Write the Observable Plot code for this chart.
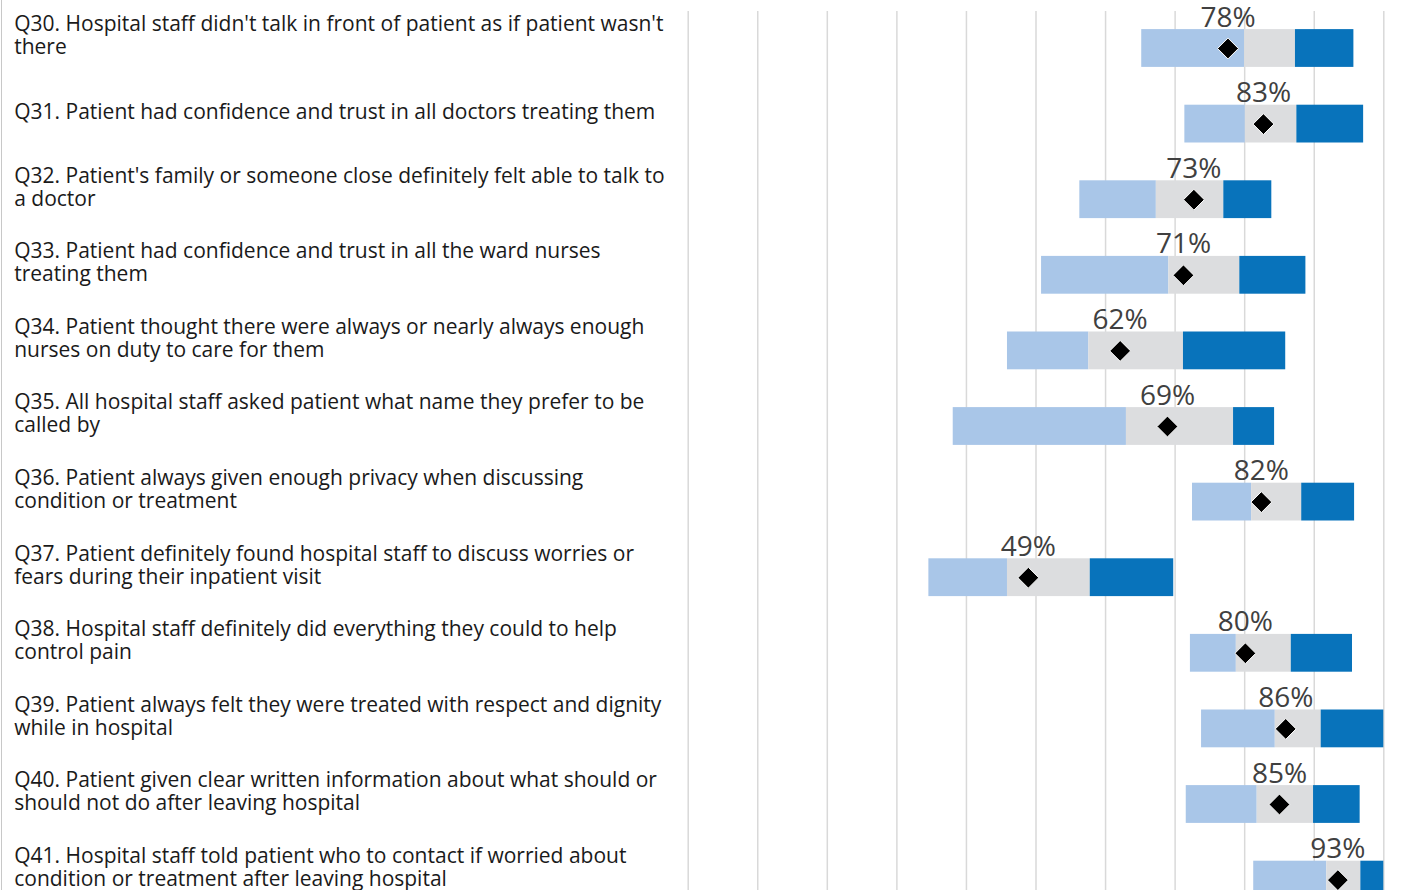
<!DOCTYPE html>
<html>
<head>
<meta charset="utf-8">
<script src="https://cdn.jsdelivr.net/npm/d3@7"></script>
<script src="https://cdn.jsdelivr.net/npm/@observablehq/plot@0.6"></script>
<style>
  html, body { margin: 0; padding: 0; background: #fff; overflow: hidden; }
  #wrap { position: relative; width: 1428px; height: 890px; }
  #border { position: absolute; left: 1px; top: 0; width: 1px; height: 890px; background: #c8c8c8; }
</style>
</head>
<body>
<div id="wrap"><div id="border"></div><div id="chart"></div></div>
<script>
const codes = ["Q30","Q31","Q32","Q33","Q34","Q35","Q36","Q37","Q38","Q39","Q40","Q41"];
const labels = [
  "Q30. Hospital staff didn't talk in front of patient as if patient wasn't\nthere",
  "Q31. Patient had confidence and trust in all doctors treating them",
  "Q32. Patient's family or someone close definitely felt able to talk to\na doctor",
  "Q33. Patient had confidence and trust in all the ward nurses\ntreating them",
  "Q34. Patient thought there were always or nearly always enough\nnurses on duty to care for them",
  "Q35. All hospital staff asked patient what name they prefer to be\ncalled by",
  "Q36. Patient always given enough privacy when discussing\ncondition or treatment",
  "Q37. Patient definitely found hospital staff to discuss worries or\nfears during their inpatient visit",
  "Q38. Hospital staff definitely did everything they could to help\ncontrol pain",
  "Q39. Patient always felt they were treated with respect and dignity\nwhile in hospital",
  "Q40. Patient given clear written information about what should or\nshould not do after leaving hospital",
  "Q41. Hospital staff told patient who to contact if worried about\ncondition or treatment after leaving hospital"
];
// range segments (percent)
const lowStart = [65.2, 71.4, 56.3, 50.8, 45.9, 38.1, 72.5, 34.6, 72.2, 73.8, 71.6, 81.3];
const lowEnd   = [80.0, 80.1, 67.3, 69.1, 57.6, 63.0, 81.0, 45.9, 78.8, 84.4, 81.8, 91.8];
const midEnd   = [87.3, 87.5, 77.0, 79.3, 71.2, 78.4, 88.2, 57.8, 86.7, 91.0, 89.9, 96.7];
const highEnd  = [95.7, 97.1, 83.9, 88.8, 85.9, 84.3, 95.8, 69.8, 95.5, 100.0, 96.6, 100.0];
const scores   = [77.6, 82.7, 72.7, 71.2, 62.1, 68.9, 82.4, 48.9, 80.1, 85.9, 85.0, 93.4];
const gridTicks = [0, 10, 20, 30, 40, 50, 60, 70, 80, 90, 100];

const rows = codes.map((c, i) => ({
  code: c, label: labels[i],
  lowStart: lowStart[i], lowEnd: lowEnd[i], midEnd: midEnd[i], highEnd: highEnd[i],
  score: scores[i]
}));

const chart = Plot.plot({
  width: 1428,
  height: 890,
  marginLeft: 687.7,
  marginRight: 44.7,
  marginTop: 11,
  marginBottom: 0,
  style: { fontFamily: "'Open Sans', sans-serif", background: "white" },
  x: { domain: [0, 100], axis: null },
  y: { domain: codes, range: [10.2, 917.4], paddingInner: 0.5, paddingOuter: 0.25, round: false, axis: null },
  marks: [
    Plot.ruleX(gridTicks, { stroke: "#d9d9d9", strokeWidth: 1.5 }),
    Plot.barX(rows, { y: "code", x1: "lowStart", x2: "lowEnd", fill: "#a9c6e8" }),
    Plot.barX(rows, { y: "code", x1: "lowEnd", x2: "midEnd", fill: "#dcdddf" }),
    Plot.barX(rows, { y: "code", x1: "midEnd", x2: "highEnd", fill: "#0873bb" }),
    Plot.dot(rows, { y: "code", x: "score", symbol: "diamond2", r: 9.4, fill: "black", stroke: "white", strokeWidth: 1 }),
    Plot.text(rows, { y: "code", x: "score", text: d => Math.round(d.score) + "%", lineAnchor: "bottom", dy: -22, fontSize: 28, fill: "#404040" }),
    Plot.text(rows, { y: "code", text: "label", frameAnchor: "left", textAnchor: "start", dx: -674, dy: -13, lineAnchor: "middle", fontSize: 21, lineHeight: 1.1, fill: "#1a1a1a" })
  ]
});
document.getElementById("chart").appendChild(chart);
</script>
</body>
</html>
